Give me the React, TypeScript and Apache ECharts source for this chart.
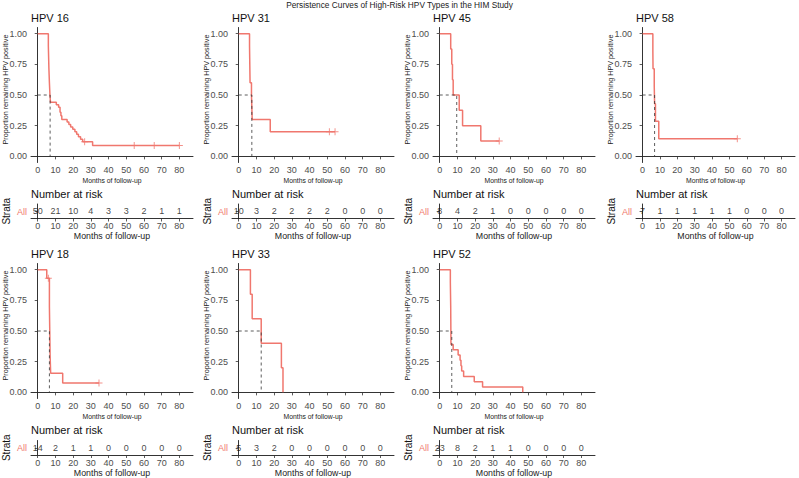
import React, { useEffect, useRef } from "react";
import * as echarts from "echarts";

const mainTitle = "Persistence Curves of High-Risk HPV Types in the HIM Study";
const panelNames = ["HPV 16", "HPV 31", "HPV 45", "HPV 58", "HPV 18", "HPV 33", "HPV 52"];
const strataName = "All";
const riskTimes = [0, 10, 20, 30, 40, 50, 60, 70, 80];
const yTicks = [0, 0.25, 0.5, 0.75, 1];

const hpv16Curve = [[0, 1], [6.0, 0.9], [6.3, 0.72], [6.6, 0.6], [6.9, 0.5], [7.2, 0.44], [10.5, 0.42], [11.8, 0.4], [12.6, 0.36], [13.1, 0.33], [13.6, 0.3], [16.6, 0.28], [17.6, 0.26], [18.6, 0.24], [19.8, 0.22], [21.0, 0.2], [22.0, 0.18], [23.0, 0.16], [24.2, 0.14], [25.4, 0.12], [31.0, 0.088], [80.0, 0.088]];
const hpv16Censor = [[26.5, 0.12], [54.5, 0.088], [65.8, 0.088], [80.0, 0.088]];
const hpv16Median = 7.0;
const hpv16Risk = [50, 21, 10, 4, 3, 3, 2, 1, 1];

const hpv31Curve = [[0, 1], [6.1, 0.9], [6.2, 0.8], [6.3, 0.7], [6.4, 0.6], [7.2, 0.5], [7.4, 0.4], [7.6, 0.3], [17.8, 0.2], [54.4, 0.2]];
const hpv31Censor = [[51.2, 0.2], [54.4, 0.2]];
const hpv31Median = 7.4;
const hpv31Risk = [10, 3, 2, 2, 2, 2, 0, 0, 0];

const hpv45Curve = [[0, 1], [6.2, 0.875], [6.8, 0.75], [7.2, 0.625], [7.6, 0.5], [11.0, 0.375], [12.9, 0.25], [23.2, 0.125], [33.6, 0.125]];
const hpv45Censor = [[33.6, 0.125]];
const hpv45Median = 9.6;
const hpv45Risk = [8, 4, 2, 1, 0, 0, 0, 0, 0];

const hpv58Curve = [[0, 1], [5.9, 0.857], [6.0, 0.714], [6.7, 0.571], [6.9, 0.429], [7.4, 0.286], [9.3, 0.143], [54.5, 0.143]];
const hpv58Censor = [[54.5, 0.143]];
const hpv58Median = 6.9;
const hpv58Risk = [7, 1, 1, 1, 1, 1, 0, 0, 0];

const hpv18Curve = [[0, 1], [5.1, 0.929], [6.6, 0.7], [6.8, 0.5], [7.0, 0.3], [7.3, 0.155], [14.1, 0.077], [34.6, 0.077]];
const hpv18Censor = [[6.0, 0.929], [34.6, 0.077]];
const hpv18Median = 6.6;
const hpv18Risk = [14, 2, 1, 1, 0, 0, 0, 0, 0];

const hpv33Curve = [[0, 1], [6.6, 0.8], [7.6, 0.6], [12.7, 0.4], [24.1, 0.2], [25.0, 0]];
const hpv33Censor: number[][] = [];
const hpv33Median = 12.7;
const hpv33Risk = [5, 3, 2, 0, 0, 0, 0, 0, 0];

const hpv52Curve = [[0, 1], [6.0, 0.9], [6.1, 0.8], [6.2, 0.7], [6.25, 0.6], [6.3, 0.5], [6.35, 0.391], [7.6, 0.348], [10.4, 0.304], [11.5, 0.261], [12.0, 0.217], [12.4, 0.174], [13.5, 0.13], [19.5, 0.087], [24.2, 0.043], [46.9, 0]];
const hpv52Censor: number[][] = [];
const hpv52Median = 6.8;
const hpv52Risk = [23, 8, 2, 1, 1, 0, 0, 0, 0];

const curves = [hpv16Curve, hpv31Curve, hpv45Curve, hpv58Curve, hpv18Curve, hpv33Curve, hpv52Curve];
const censors = [hpv16Censor, hpv31Censor, hpv45Censor, hpv58Censor, hpv18Censor, hpv33Censor, hpv52Censor];
const medians = [hpv16Median, hpv31Median, hpv45Median, hpv58Median, hpv18Median, hpv33Median, hpv52Median];
const risks = [hpv16Risk, hpv31Risk, hpv45Risk, hpv58Risk, hpv18Risk, hpv33Risk, hpv52Risk];

// layout
const FONT = "Liberation Sans, Arial, Helvetica, sans-serif";
const RED = "#F0776E";
const GREY = "#4D4D4D";
const lefts = [31, 232, 433, 636, 31, 232, 433];
const widths = [162, 162, 162, 159, 162, 162, 162];
const plotTops = [27.5, 27.5, 27.5, 27.5, 263.5, 263.5, 263.5];
const plotHeights = [135, 135, 135, 135, 135, 135, 135];
const tableTops = [204, 204, 204, 204, 440.5, 440.5, 440.5];
const TABLE_H = 14.5;
const X_MIN = -3.8;
const X_MAX = 87.7;
const PLUS = "path://M-0.14,-1 L0.14,-1 L0.14,-0.14 L1,-0.14 L1,0.14 L0.14,0.14 L0.14,1 L-0.14,1 L-0.14,0.14 L-1,0.14 L-1,-0.14 L-0.14,-0.14 Z";

function buildOption() {
  const grid: any[] = [];
  const xAxis: any[] = [];
  const yAxis: any[] = [];
  const series: any[] = [];
  const graphic: any[] = [];

  graphic.push({
    id: "main-title", type: "text", x: 399.5, y: 5,
    style: { text: mainTitle, font: `8.3px ${FONT}`, fill: "#222", align: "center", verticalAlign: "middle" },
  });

  const axisLineStyle = { show: true, lineStyle: { color: "#000", width: 0.8 } };
  const tickStyle = { show: true, length: 3, lineStyle: { color: "#333", width: 0.8 } };

  panelNames.forEach((name, i) => {
    const left = lefts[i];
    const w = widths[i];
    const pg = i * 2;
    const tg = i * 2 + 1;
    grid.push({ left, top: plotTops[i], width: w, height: plotHeights[i] });
    grid.push({ left, top: tableTops[i], width: w, height: TABLE_H });

    xAxis.push({
      type: "value", gridIndex: pg, min: X_MIN, max: X_MAX,
      name: "Months of follow-up", nameLocation: "middle", nameGap: 14,
      nameTextStyle: { fontFamily: FONT, fontSize: 6.8, color: "#222" },
      axisLine: axisLineStyle,
      axisTick: { ...tickStyle, customValues: riskTimes },
      axisLabel: { customValues: riskTimes, fontFamily: FONT, fontSize: 9, color: GREY, margin: 3 },
      splitLine: { show: false },
    });
    yAxis.push({
      type: "value", gridIndex: pg, min: -0.05, max: 1.05,
      axisLine: axisLineStyle,
      axisTick: { ...tickStyle, customValues: yTicks },
      axisLabel: {
        customValues: yTicks, fontFamily: FONT, fontSize: 9, color: GREY, margin: 4,
        formatter: (v: number) => v.toFixed(2),
      },
      splitLine: { show: false },
    });
    xAxis.push({
      type: "value", gridIndex: tg, min: X_MIN, max: X_MAX,
      name: "Months of follow-up", nameLocation: "middle", nameGap: 13,
      nameTextStyle: { fontFamily: FONT, fontSize: 8.8, color: "#222" },
      axisLine: axisLineStyle,
      axisTick: { ...tickStyle, customValues: riskTimes },
      axisLabel: { customValues: riskTimes, fontFamily: FONT, fontSize: 9, color: GREY, margin: 3 },
      splitLine: { show: false },
    });
    yAxis.push({
      type: "category", gridIndex: tg, data: [strataName],
      name: "Strata", nameLocation: "middle", nameRotate: 90, nameGap: 20,
      nameTextStyle: { fontFamily: FONT, fontSize: 10, color: "#111" },
      axisLine: axisLineStyle,
      axisTick: { ...tickStyle, alignWithLabel: true },
      axisLabel: { show: false },
      splitLine: { show: false },
    });

    series.push({
      type: "line", xAxisIndex: pg, yAxisIndex: pg, step: "end",
      data: curves[i], showSymbol: false, symbol: "none",
      lineStyle: { color: RED, width: 1.5 }, itemStyle: { color: RED }, z: 3,
    });
    if (censors[i].length) {
      series.push({
        type: "scatter", xAxisIndex: pg, yAxisIndex: pg, data: censors[i],
        symbol: PLUS, symbolSize: 7, itemStyle: { color: RED }, z: 4,
      });
    }
    series.push({
      type: "line", xAxisIndex: pg, yAxisIndex: pg,
      data: [[0, 0.5], [medians[i], 0.5], [medians[i], 0]],
      showSymbol: false, symbol: "none",
      lineStyle: { color: "#333", width: 0.8, type: [3, 3] }, z: 5,
    });
    series.push({
      type: "scatter", xAxisIndex: tg, yAxisIndex: tg,
      data: riskTimes.map((t, k) => [t, 0, risks[i][k]]),
      symbolSize: 0,
      label: {
        show: true, position: "inside", fontFamily: FONT, fontSize: 9, color: "#111",
        formatter: (p: any) => String(p.value[2]),
      },
    });

    graphic.push({
      id: `all-${i}`, type: "text", x: left - 4, y: tableTops[i] + 7.5,
      style: { text: strataName, font: `9px ${FONT}`, fill: RED, align: "right", verticalAlign: "middle" },
    });
    graphic.push({
      id: `title-${i}`, type: "text", x: left, y: plotTops[i] - 10,
      style: { text: name, font: `11px ${FONT}`, fill: "#111", verticalAlign: "middle" },
    });
    graphic.push({
      id: `nar-${i}`, type: "text", x: left, y: tableTops[i] - 10.5,
      style: { text: "Number at risk", font: `11px ${FONT}`, fill: "#111", verticalAlign: "middle" },
    });
    graphic.push({
      id: `ylab-${i}`, type: "text", x: left - 26, y: plotTops[i] + 62, rotation: Math.PI / 2,
      style: { text: "Proportion remaining HPV positive", font: `7.2px ${FONT}`, fill: "#222", align: "center", verticalAlign: "middle" },
    });
  });

  return { animation: false, backgroundColor: "#fff", grid, xAxis, yAxis, series, graphic };
}

export default function App() {
  const ref = useRef<HTMLDivElement>(null);
  useEffect(() => {
    document.body.style.margin = "0";
    if (!ref.current) return;
    const chart = echarts.init(ref.current, undefined, { renderer: "svg" });
    chart.setOption(buildOption() as any);
    return () => chart.dispose();
  }, []);
  return <div ref={ref} style={{ position: "absolute", left: 0, top: 0, width: 799, height: 478 }} />;
}
